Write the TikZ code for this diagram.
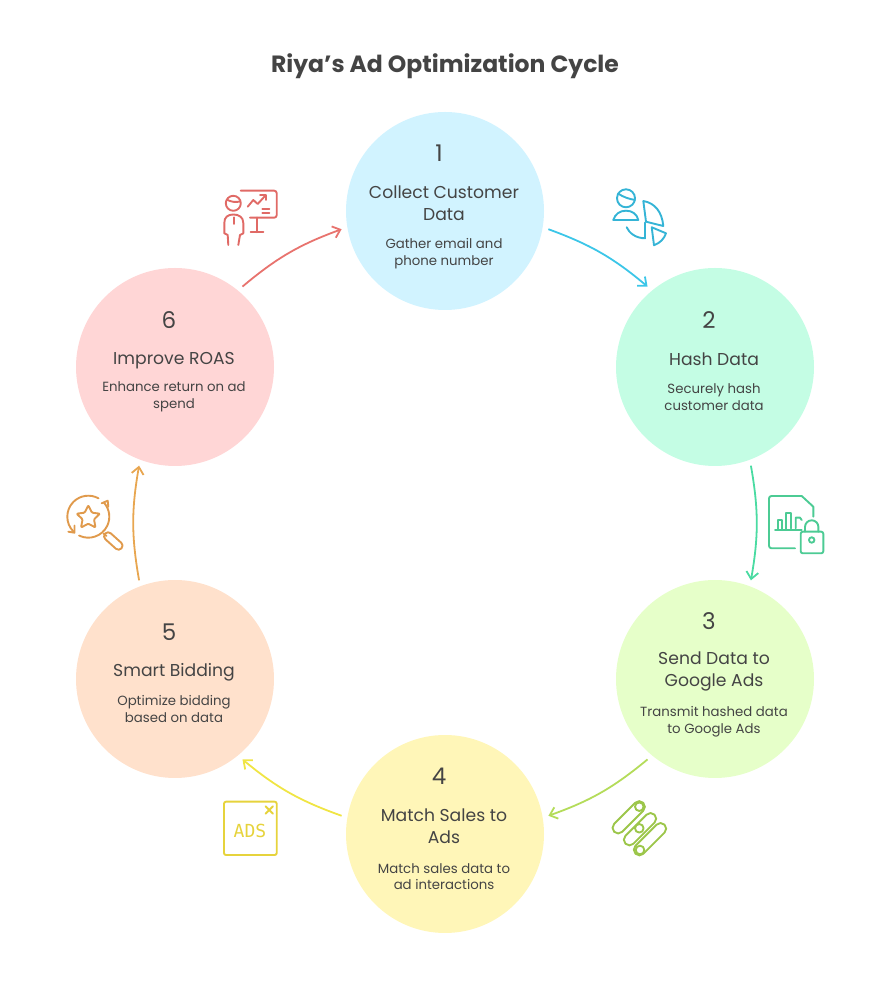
\documentclass[tikz,border=0pt]{standalone}
\usepackage{fontspec}
\setmainfont{Poppins}
\newfontfamily\adsfont{DejaVu Sans Mono}
\usetikzlibrary{arrows.meta}
\usetikzlibrary{positioning}
\usetikzlibrary{shapes.geometric}

\definecolor{inkgray}{HTML}{444444}
\definecolor{fillA}{HTML}{D1F3FF}
\definecolor{fillB}{HTML}{C4FDE4}
\definecolor{fillC}{HTML}{E6FFC9}
\definecolor{fillD}{HTML}{FFF6B8}
\definecolor{fillE}{HTML}{FFE1CC}
\definecolor{fillF}{HTML}{FFD6D6}
\definecolor{lineA}{HTML}{3CC6E8}
\definecolor{lineB}{HTML}{4ADBA2}
\definecolor{lineC}{HTML}{B4DC5A}
\definecolor{lineD}{HTML}{F0E544}
\definecolor{lineE}{HTML}{E8A650}
\definecolor{lineF}{HTML}{E8736E}
\definecolor{iconA}{HTML}{35B4D6}
\definecolor{iconB}{HTML}{4CCB94}
\definecolor{iconC}{HTML}{9CC64A}
\definecolor{iconD}{HTML}{E6D33C}
\definecolor{iconE}{HTML}{E09A4C}
\definecolor{iconF}{HTML}{E06A66}

\tikzset{
  stepcirc/.style={circle, minimum size=198pt, inner sep=0pt, outer sep=6pt, node distance=270pt},
  numtxt/.style={text=inkgray, font=\fontsize{23}{28}\selectfont, node distance=58pt, xshift=-6pt},
  headtxt/.style={text=inkgray, align=center, font=\fontsize{17.2}{22}\selectfont, node distance=8pt, xshift=-1pt},
  desctxt/.style={text=inkgray, align=center, font=\fontsize{13.3}{16.7}\selectfont, node distance=42.5pt, xshift=-1pt},
  cyclearrow/.style={-{Straight Barb[length=7pt,width=12pt]}, line width=1.8pt, bend left=10},
  iconline/.style={line width=1.9pt, line cap=round, line join=round},
}

\begin{document}
\begin{tikzpicture}[x=1pt,y=1pt]
    \useasboundingbox (0,0) rectangle (890,990);
    % the six steps
    \node[stepcirc, fill=fillA] at (445,779) (C1) {};
    \node[stepcirc, fill=fillB, right of=C1, yshift=-156pt] (C2) {};
    \node[stepcirc, fill=fillC, below of=C2, node distance=312pt] (C3) {};
    \node[stepcirc, fill=fillD, left of=C3, yshift=-155pt] (C4) {};
    \node[stepcirc, fill=fillE, left of=C4, yshift=155pt] (C5) {};
    \node[stepcirc, fill=fillF, above of=C5, node distance=312pt] (C6) {};

    \node[above of=C1, node distance=148pt, yshift=-3pt, text=inkgray, font=\fontsize{23.5}{28}\selectfont\bfseries] (title) {Riya's Ad Optimization Cycle};

    % step texts
    \node[numtxt, above of=C1] (N1) {1};
    \node[headtxt, above of=C1] (H1) {Collect Customer\\Data};
    \node[desctxt, below of=C1] (D1) {Gather email and\\phone number};

    \node[numtxt, above of=C2, node distance=47pt] (N2) {2};
    \node[headtxt, above of=C2] (H2) {Hash Data};
    \node[desctxt, below of=C2, node distance=30pt] (D2) {Securely hash\\customer data};

    \node[numtxt, above of=C3] (N3) {3};
    \node[headtxt, above of=C3] (H3) {Send Data to\\Google Ads};
    \node[desctxt, below of=C3] (D3) {Transmit hashed data\\to Google Ads};

    \node[numtxt, above of=C4] (N4) {4};
    \node[headtxt, above of=C4] (H4) {Match Sales to\\Ads};
    \node[desctxt, below of=C4] (D4) {Match sales data to\\ad interactions};

    \node[numtxt, above of=C5, node distance=47pt] (N5) {5};
    \node[headtxt, above of=C5, yshift=-1pt] (H5) {Smart Bidding};
    \node[desctxt, below of=C5, node distance=30pt] (D5) {Optimize bidding\\based on data};

    \node[numtxt, above of=C6, node distance=47pt] (N6) {6};
    \node[headtxt, above of=C6, yshift=-2pt] (H6) {Improve ROAS};
    \node[desctxt, below of=C6, node distance=30pt] (D6) {Enhance return on ad\\spend};

    % cycle arrows
    \path (C1.-10) edge[cyclearrow, draw=lineA] (C2.130);
    \path (C2.-70) edge[cyclearrow, draw=lineB] (C3.70);
    \path (C3.230) edge[cyclearrow, draw=lineC] (C4.10);
    \path (C4.170) edge[cyclearrow, draw=lineD] (C5.-50);
    \path (C5.110) edge[cyclearrow, draw=lineE] (C6.-110);
    \path (C6.50) edge[cyclearrow, draw=lineF] (C1.190);

    % icons, in picture pixels
    \begin{scope}[shift={(0,990)}, yscale=-1]
        % people and pie
        \begin{scope}[iconline, draw=iconA]
            \draw (626,198.3) circle (9);
            \draw (618,193.5) .. controls (623,197) and (629,199) .. (635,200);
            \draw (613.3,220) -- (638.3,220) .. controls (637,214) and (632,210.7) .. (626,210.7) .. controls (620,210.7) and (615,214) .. (613.3,220) -- cycle;
            \draw (643.3,201) -- (646,221.7) -- (663.3,226) .. controls (662,212) and (655,203) .. (643.3,201);
            \draw (626.7,227.3) .. controls (629,233) and (636,238.3) .. (645,238.3) -- (645,222.7);
            \draw (651.7,227.3) -- (666,233.3) .. controls (664,239) and (660,243) .. (654,245.3) -- cycle;
        \end{scope}
        % document with lock
        \begin{scope}[iconline, draw=iconB]
            \draw[rounded corners=2.5pt] (795,548.3) -- (769,548.3) -- (769,496) -- (801.7,496);
            \draw (801.7,496) -- (813.3,506.7) -- (813.3,516.7);
            \draw (775,530) -- (801.7,530);
            \draw (777.7,530) -- (777.7,520) -- (782.3,520) -- (782.3,530);
            \draw (785.7,530) -- (785.7,513.3) -- (791,513.3) -- (791,528.3);
            \draw (795.7,528.3) -- (795.7,517.7) -- (800,517.7) -- (801.7,520);
            \draw[rounded corners=2pt] (800.7,531.7) rectangle (823.3,553.3);
            \draw (805,531.7) -- (805,527) arc[start angle=180, end angle=360, radius=6.7] -- (818.3,531.7);
            \draw (811.7,540) circle (2.7);
        \end{scope}
        % three bars
        \begin{scope}[iconline, draw=iconC]
            \draw[rounded corners=5.5pt, shift={(628.7,817.3)}, rotate=-45] (-20.5,-5.6) rectangle (20.5,5.6);
            \draw[rounded corners=5.5pt, shift={(640,829.2)}, rotate=-45] (-20.5,-5.6) rectangle (20.5,5.6);
            \draw[rounded corners=5.5pt, shift={(650,839.2)}, rotate=-45] (-20.5,-5.6) rectangle (20.5,5.6);
            \draw (639.3,806.7) circle (4.3);
            \draw[fill=white] (639.3,828.3) circle (4.3);
            \draw (640,850) circle (4.3);
        \end{scope}
        % closed ad
        \begin{scope}[iconline, draw=iconD]
            \draw[rounded corners=2pt] (224,801.7) rectangle (276.7,855);
            \draw (265.6,806.3) -- (273,813.7);
            \draw (273,806.3) -- (265.6,813.7);
        \end{scope}
        \node[text=iconD, font=\adsfont\fontsize{18}{20}\selectfont] at (250,830.7) (adstxt) {ADS};
        % star under magnifier
        \begin{scope}[iconline, draw=iconE]
            \draw (88.3,516.7) ++(135:21) arc[start angle=135, end angle=299, radius=21];
            \draw (88.3,516.7) ++(116:21) arc[start angle=116, end angle=-42, radius=21];
            \draw (68.3,531.7) -- (74.5,532.7) -- (74.5,525.7);
            \draw (101.7,503.3) -- (107.7,500.7) -- (108.3,506.7);
            \draw[rounded corners=1pt] (88.3,505.3) -- (92,512.7) -- (100,513.7) -- (94,519.3) -- (95.5,527.5) -- (88.3,523.7) -- (81,527.5) -- (82.6,519.3) -- (76.6,513.7) -- (84.6,512.7) -- cycle;
            \draw (103.5,533.5) -- (106.5,536);
            \draw[rounded corners=3.9pt, shift={(113.3,541)}, rotate=42] (-11,-4) rectangle (11,4);
        \end{scope}
        % presenter with chart
        \begin{scope}[iconline, draw=iconF]
            \draw (233.3,203.3) circle (7.5);
            \draw (227,199.7) .. controls (231,202) and (236,202.5) .. (240,201.5);
            \draw (228.3,245) -- (227.7,235) -- (224.3,233.3) -- (224.3,223) .. controls (224.3,217) and (228,214.5) .. (233.3,214.5) .. controls (238.7,214.5) and (243.3,217) .. (243.3,223) -- (243.3,233.3) -- (240,235) -- (238.3,245);
            \draw (234,217.3) -- (234,224);
            \draw[rounded corners=2.5pt] (240.7,190.7) -- (276.7,190.7) -- (276.7,217.7) -- (250,217.7);
            \draw (257.3,217.7) -- (257.3,232.3);
            \draw (250.7,232.3) -- (263.3,232.3);
            \draw (247.7,206.7) -- (253.3,200) -- (257.7,204) -- (265,196);
            \draw (260,195) -- (266,195) -- (266,200);
            \draw (262.3,209.3) -- (269.3,209.3);
            \draw (262.3,213.3) -- (269.3,213.3);
        \end{scope}
    \end{scope}
\end{tikzpicture}
\end{document}
